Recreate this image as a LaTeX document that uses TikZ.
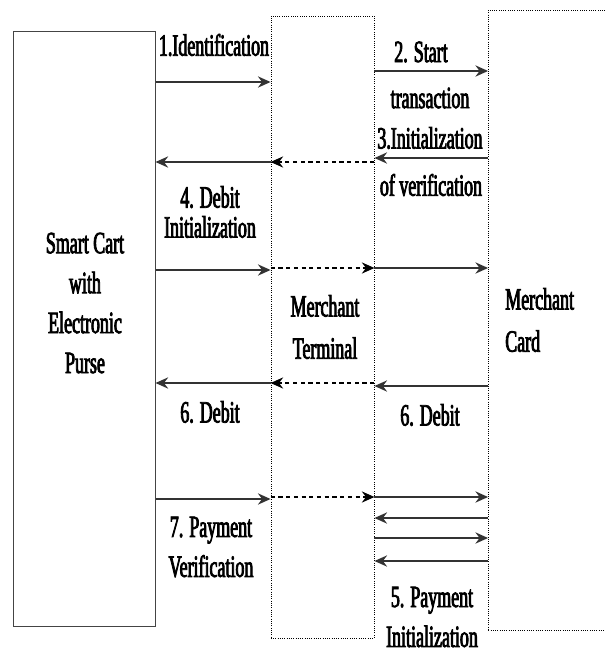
\documentclass[tikz,border=0pt]{standalone}
\usepackage{fontspec}
\setmainfont{Liberation Serif}[FakeStretch=0.58,FakeBold=2.6]
\usetikzlibrary{arrows.meta,positioning}
\definecolor{LineGray}{HTML}{333333}
\definecolor{EdgeGray}{HTML}{444444}
\tikzset{
  % Party boxes
  PB/.style={rectangle,draw=EdgeGray,line width=0.7pt,inner sep=0pt},
  PBd/.style={PB,draw=black,line width=0.6pt,densely dotted},
  % Text labels
  TX/.style={align=center,inner sep=0pt,font=\fontsize{22}{28.4}\selectfont},
  TXs/.style={TX,font=\fontsize{22}{21.3}\selectfont},
  % Arrows
  arr/.style={-{Stealth[length=9pt,width=8pt,inset=3pt]},line width=1.3pt,draw=LineGray},
  darr/.style={arr,draw=black,line width=1pt,dash pattern=on 3pt off 2.5pt}
}
\begin{document}
\begin{tikzpicture}[x=0.025cm,y=-0.025cm]
  \useasboundingbox[fill=white] (0,0) rectangle (605,652);
  % --- the three parties ---
  \node[PB, minimum width=3.525cm,minimum height=14.85cm] (cart) at (84.5,329)  {};
  \node[PBd,minimum width=2.575cm,minimum height=15.55cm] (term) at (322.5,327) {};
  \node[PBd,minimum width=3.1cm, minimum height=15.5cm]  (card) at (550.5,320) {};

  \node[TX]                        (cartT) at (85,303)  {Smart Cart\\with\\Electronic\\Purse};
  \node[TX,font=\fontsize{22}{30}\selectfont] (termT) at (325,327) {Merchant\\Terminal};
  \node[TX,font=\fontsize{22}{30}\selectfont,anchor=west,align=left] (cardT) at (505,320) {Merchant\\Card};

  % --- message labels ---
  \node[TX]  (l1)  at (214,45)  {1.Identification};
  \node[TX]  (l2a) at (421,52)  {2. Start};
  \node[TX]  (l2b) at (430,98)  {transaction};
  \node[TX]  (l3a) at (430,138) {3.Initialization};
  \node[TX]  (l3b) at (431,185) {of verification};
  \node[TXs] (l4)  at (210,212) {4. Debit\\Initialization};
  \node[TX]  (l6a) at (210,412) {6. Debit};
  \node[TX]  (l6b) at (430,415) {6. Debit};
  \node[TX]  (l7)  at (211,547) {7. Payment\\Verification};
  \node[TX]  (l5)  at (432,617) {5. Payment\\Initialization};

  % --- 1 and 2 ---
  \draw[arr] (cart.east |- 0,82) -- (term.west |- 0,82);
  \draw[arr] (term.east |- 0,71) -- (card.west |- 0,71);
  % --- 3 ---
  \draw[arr]  (card.west |- 0,158) -- (term.east |- 0,158);
  \draw[darr] (term.east |- 0,162) -- (term.west |- 0,162);
  \draw[arr]  (term.west |- 0,162) -- (cart.east |- 0,162);
  % --- 4 ---
  \draw[arr]  (cart.east |- 0,270) -- (term.west |- 0,270);
  \draw[darr] (term.west |- 0,268) -- (term.east |- 0,268);
  \draw[arr]  (term.east |- 0,268) -- (card.west |- 0,268);
  % --- 6 ---
  \draw[arr]  (card.west |- 0,386) -- (term.east |- 0,386);
  \draw[darr] (term.east |- 0,383) -- (term.west |- 0,383);
  \draw[arr]  (term.west |- 0,383) -- (cart.east |- 0,383);
  % --- 7 ---
  \draw[arr]  (cart.east |- 0,499) -- (term.west |- 0,499);
  \draw[darr] (term.west |- 0,497) -- (term.east |- 0,497);
  \draw[arr]  (term.east |- 0,497) -- (card.west |- 0,497);
  % --- 5 ---
  \draw[arr] (card.west |- 0,518) -- (term.east |- 0,518);
  \draw[arr] (term.east |- 0,538) -- (card.west |- 0,538);
  \draw[arr] (card.west |- 0,561) -- (term.east |- 0,561);
\end{tikzpicture}
\end{document}
